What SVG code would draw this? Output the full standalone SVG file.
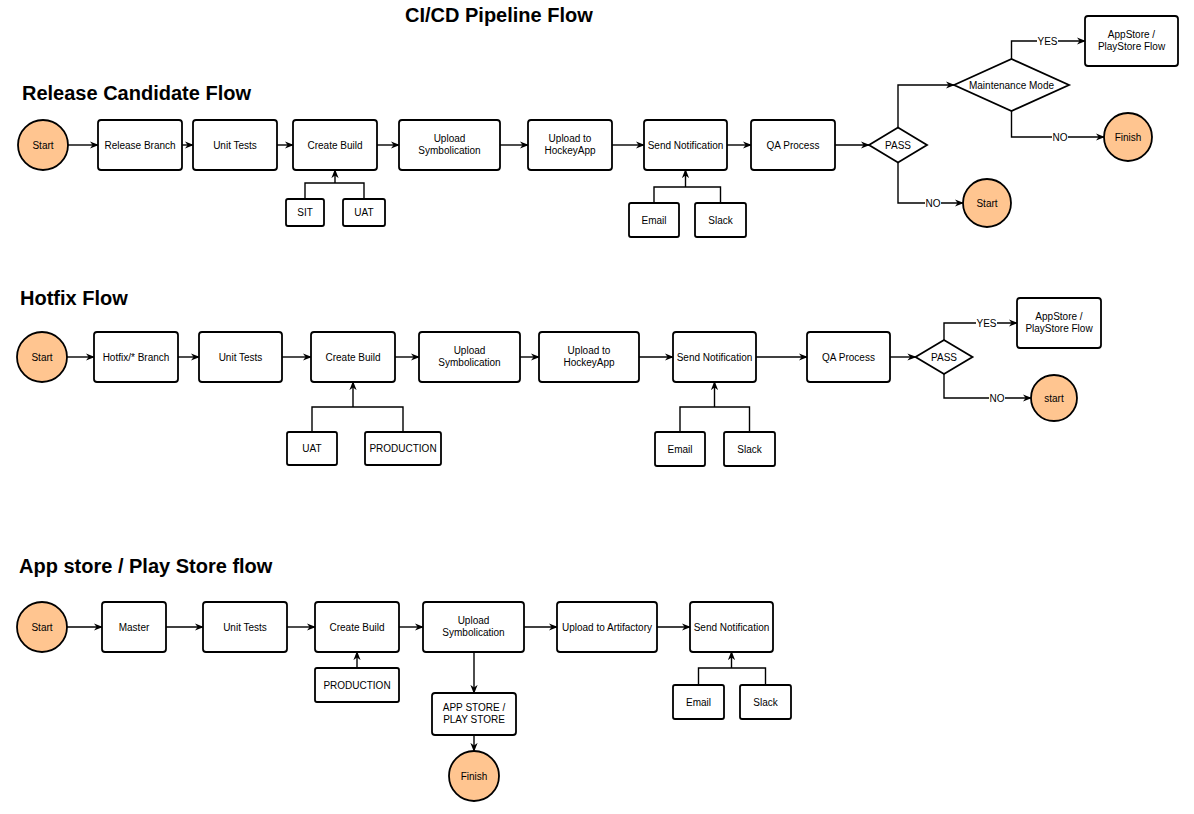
<svg xmlns="http://www.w3.org/2000/svg" width="1194" height="814" viewBox="0 0 1194 814">
<style>
text{font-family:"Liberation Sans",Arial,Helvetica,sans-serif;fill:#000}
.t{font-size:10px;text-anchor:middle}
.h{font-size:20px;font-weight:bold}
.box{fill:#fff;stroke:#000;stroke-width:1.8}
.term{fill:#ffc590;stroke:#000;stroke-width:1.8}
.ln{fill:none;stroke:#000;stroke-width:1.4}
.arr{fill:none;stroke:#000;stroke-width:1.4;marker-end:url(#ah)}
.lbl{fill:#fff;stroke:none}
</style>
<defs>
<marker id="ah" viewBox="0 0 10 10" refX="9" refY="5" markerWidth="9" markerHeight="9" markerUnits="userSpaceOnUse" orient="auto">
<path d="M0,1 L10,5 L0,9 L3,5 z" fill="#000"/>
</marker>
</defs>
<rect width="1194" height="814" fill="#fff"/>

<text class="h" x="405" y="22">CI/CD Pipeline Flow</text>
<text class="h" x="22" y="100">Release Candidate Flow</text>
<text class="h" x="20" y="305">Hotfix Flow</text>
<text class="h" x="19" y="573">App store / Play Store flow</text>

<g id="connectors">
<!-- Release Candidate -->
<path class="arr" d="M68 145 H98"/>
<path class="arr" d="M182 145 H193"/>
<path class="arr" d="M277 145 H293"/>
<path class="arr" d="M377 145 H399"/>
<path class="arr" d="M500 145 H528"/>
<path class="arr" d="M612 145 H644"/>
<path class="arr" d="M727 145 H751"/>
<path class="arr" d="M835 145 H869"/>
<path class="arr" d="M898 127.5 V85 H954"/>
<path class="arr" d="M1011.5 59 V41 H1085"/>
<path class="arr" d="M1011.5 111 V137 H1104"/>
<path class="arr" d="M898 162.5 V203 H963"/>
<path class="ln" d="M305 199 V183 H364 V199"/>
<path class="arr" d="M335 183 V170"/>
<path class="ln" d="M654 203 V187 H720.5 V203"/>
<path class="arr" d="M685.5 187 V170"/>
<rect class="lbl" x="1037" y="35" width="21" height="12"/>
<text class="t" x="1047.5" y="45">YES</text>
<rect class="lbl" x="1052" y="131" width="16" height="12"/>
<text class="t" x="1060" y="141">NO</text>
<rect class="lbl" x="925" y="197" width="16" height="12"/>
<text class="t" x="933" y="207">NO</text>

<!-- Hotfix -->
<path class="arr" d="M67 357 H94"/>
<path class="arr" d="M178 357 H199"/>
<path class="arr" d="M282 357 H311"/>
<path class="arr" d="M395 357 H419"/>
<path class="arr" d="M520 357 H539"/>
<path class="arr" d="M639 357 H673"/>
<path class="arr" d="M756 357 H807"/>
<path class="arr" d="M890 357 H915.5"/>
<path class="arr" d="M944 340 V323 H1017"/>
<path class="arr" d="M944 374 V398 H1031"/>
<path class="ln" d="M312 432 V407 H403 V432"/>
<path class="arr" d="M353 407 V382"/>
<path class="ln" d="M680 432 V407 H749.5 V432"/>
<path class="arr" d="M714.5 407 V382"/>
<rect class="lbl" x="976" y="317" width="21" height="12"/>
<text class="t" x="986.5" y="327">YES</text>
<rect class="lbl" x="989" y="392" width="16" height="12"/>
<text class="t" x="997" y="402">NO</text>

<!-- App store -->
<path class="arr" d="M67 627 H102"/>
<path class="arr" d="M166 627 H203"/>
<path class="arr" d="M287 627 H315"/>
<path class="arr" d="M399 627 H423"/>
<path class="arr" d="M524 627 H557"/>
<path class="arr" d="M657 627 H690"/>
<path class="arr" d="M357 668 V652"/>
<path class="ln" d="M698.5 685 V668 H765.5 V685"/>
<path class="arr" d="M731.5 668 V652"/>
<path class="arr" d="M474 652 V693"/>
<path class="arr" d="M474 735 V751"/>
</g>

<!-- Release Candidate nodes -->
<g id="rc-start"><circle class="term" cx="43" cy="145" r="25"/><text class="t" x="43" y="148.5">Start</text></g>
<g id="rc-release-branch"><rect class="box" x="98" y="120" width="84" height="50" rx="3"/><text class="t" x="140" y="148.5">Release Branch</text></g>
<g id="rc-unit-tests"><rect class="box" x="193" y="120" width="84" height="50" rx="3"/><text class="t" x="235" y="148.5">Unit Tests</text></g>
<g id="rc-create-build"><rect class="box" x="293" y="120" width="84" height="50" rx="3"/><text class="t" x="335" y="148.5">Create Build</text></g>
<g id="rc-upload-symbolication"><rect class="box" x="399" y="120" width="101" height="50" rx="3"/><text class="t" x="449.5" y="141.5">Upload</text><text class="t" x="449.5" y="153.5">Symbolication</text></g>
<g id="rc-upload-hockeyapp"><rect class="box" x="528" y="120" width="84" height="50" rx="3"/><text class="t" x="570" y="141.5">Upload to</text><text class="t" x="570" y="153.5">HockeyApp</text></g>
<g id="rc-send-notification"><rect class="box" x="644" y="120" width="83" height="50" rx="3"/><text class="t" x="685.5" y="148.5">Send Notification</text></g>
<g id="rc-qa-process"><rect class="box" x="751" y="120" width="84" height="50" rx="3"/><text class="t" x="793" y="148.5">QA Process</text></g>
<g id="rc-pass"><polygon class="box" points="869,145 898,127.5 927,145 898,162.5"/><text class="t" x="898" y="148.5">PASS</text></g>
<g id="rc-maintenance"><polygon class="box" points="954,85 1011.5,59 1069,85 1011.5,111"/><text class="t" x="1011.5" y="88.5">Maintenance Mode</text></g>
<g id="rc-appstore-flow"><rect class="box" x="1085" y="16" width="93" height="50" rx="3"/><text class="t" x="1131.5" y="37.5">AppStore /</text><text class="t" x="1131.5" y="49.5">PlayStore Flow</text></g>
<g id="rc-finish"><circle class="term" cx="1128" cy="137" r="24"/><text class="t" x="1128" y="140.5">Finish</text></g>
<g id="rc-restart"><circle class="term" cx="987" cy="203" r="24"/><text class="t" x="987" y="206.5">Start</text></g>
<g id="rc-sit"><rect class="box" x="286" y="199" width="38" height="27" rx="2"/><text class="t" x="305" y="216">SIT</text></g>
<g id="rc-uat"><rect class="box" x="343" y="199" width="42" height="27" rx="2"/><text class="t" x="364" y="216">UAT</text></g>
<g id="rc-email"><rect class="box" x="629" y="203" width="50" height="34" rx="2"/><text class="t" x="654" y="223.5">Email</text></g>
<g id="rc-slack"><rect class="box" x="695" y="203" width="51" height="34" rx="2"/><text class="t" x="720.5" y="223.5">Slack</text></g>

<!-- Hotfix nodes -->
<g id="hf-start"><circle class="term" cx="42" cy="357" r="25"/><text class="t" x="42" y="360.5">Start</text></g>
<g id="hf-branch"><rect class="box" x="94" y="332" width="84" height="50" rx="3"/><text class="t" x="136" y="360.5">Hotfix/* Branch</text></g>
<g id="hf-unit-tests"><rect class="box" x="199" y="332" width="83" height="50" rx="3"/><text class="t" x="240.5" y="360.5">Unit Tests</text></g>
<g id="hf-create-build"><rect class="box" x="311" y="332" width="84" height="50" rx="3"/><text class="t" x="353" y="360.5">Create Build</text></g>
<g id="hf-upload-symbolication"><rect class="box" x="419" y="332" width="101" height="50" rx="3"/><text class="t" x="469.5" y="353.5">Upload</text><text class="t" x="469.5" y="365.5">Symbolication</text></g>
<g id="hf-upload-hockeyapp"><rect class="box" x="539" y="332" width="100" height="50" rx="3"/><text class="t" x="589" y="353.5">Upload to</text><text class="t" x="589" y="365.5">HockeyApp</text></g>
<g id="hf-send-notification"><rect class="box" x="673" y="332" width="83" height="50" rx="3"/><text class="t" x="714.5" y="360.5">Send Notification</text></g>
<g id="hf-qa-process"><rect class="box" x="807" y="332" width="83" height="50" rx="3"/><text class="t" x="848.5" y="360.5">QA Process</text></g>
<g id="hf-pass"><polygon class="box" points="915.5,357 944,340 972.5,357 944,374"/><text class="t" x="944" y="360.5">PASS</text></g>
<g id="hf-appstore-flow"><rect class="box" x="1017" y="298" width="84" height="50" rx="3"/><text class="t" x="1059" y="319.5">AppStore /</text><text class="t" x="1059" y="331.5">PlayStore Flow</text></g>
<g id="hf-restart"><circle class="term" cx="1054" cy="398" r="23"/><text class="t" x="1054" y="401.5">start</text></g>
<g id="hf-uat"><rect class="box" x="287" y="432" width="50" height="33" rx="2"/><text class="t" x="312" y="452">UAT</text></g>
<g id="hf-production"><rect class="box" x="365" y="432" width="76" height="33" rx="2"/><text class="t" x="403" y="452">PRODUCTION</text></g>
<g id="hf-email"><rect class="box" x="655" y="432" width="50" height="34" rx="2"/><text class="t" x="680" y="452.5">Email</text></g>
<g id="hf-slack"><rect class="box" x="724" y="432" width="51" height="34" rx="2"/><text class="t" x="749.5" y="452.5">Slack</text></g>

<!-- App store nodes -->
<g id="as-start"><circle class="term" cx="42" cy="627" r="25"/><text class="t" x="42" y="630.5">Start</text></g>
<g id="as-master"><rect class="box" x="102" y="602" width="64" height="50" rx="3"/><text class="t" x="134" y="630.5">Master</text></g>
<g id="as-unit-tests"><rect class="box" x="203" y="602" width="84" height="50" rx="3"/><text class="t" x="245" y="630.5">Unit Tests</text></g>
<g id="as-create-build"><rect class="box" x="315" y="602" width="84" height="50" rx="3"/><text class="t" x="357" y="630.5">Create Build</text></g>
<g id="as-upload-symbolication"><rect class="box" x="423" y="602" width="101" height="50" rx="3"/><text class="t" x="473.5" y="623.5">Upload</text><text class="t" x="473.5" y="635.5">Symbolication</text></g>
<g id="as-upload-artifactory"><rect class="box" x="557" y="602" width="100" height="50" rx="3"/><text class="t" x="607" y="630.5">Upload to Artifactory</text></g>
<g id="as-send-notification"><rect class="box" x="690" y="602" width="83" height="50" rx="3"/><text class="t" x="731.5" y="630.5">Send Notification</text></g>
<g id="as-production"><rect class="box" x="315" y="668" width="84" height="34" rx="2"/><text class="t" x="357" y="688.5">PRODUCTION</text></g>
<g id="as-email"><rect class="box" x="673" y="685" width="51" height="34" rx="2"/><text class="t" x="698.5" y="705.5">Email</text></g>
<g id="as-slack"><rect class="box" x="740" y="685" width="51" height="34" rx="2"/><text class="t" x="765.5" y="705.5">Slack</text></g>
<g id="as-app-store"><rect class="box" x="432" y="693" width="84" height="42" rx="3"/><text class="t" x="474" y="710.5">APP STORE /</text><text class="t" x="474" y="722.5">PLAY STORE</text></g>
<g id="as-finish"><circle class="term" cx="474" cy="776" r="25"/><text class="t" x="474" y="779.5">Finish</text></g>
</svg>
